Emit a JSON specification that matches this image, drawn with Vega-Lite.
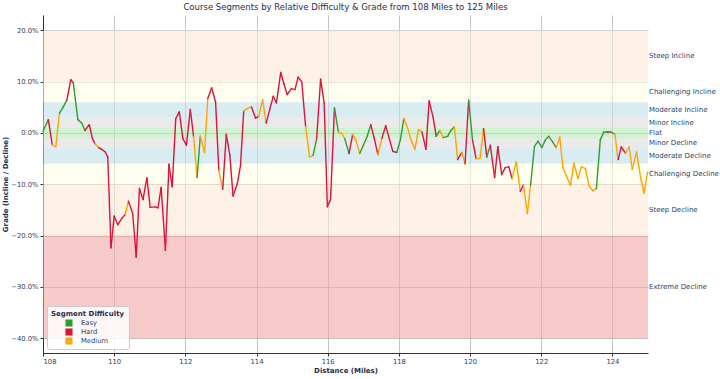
{
  "$schema": "https://vega.github.io/schema/vega-lite/v6.json",
  "width": 605,
  "height": 338,
  "autosize": {"type": "none"},
  "padding": {"left": 43, "top": 15, "right": 72, "bottom": 26},
  "title": {"text": "Course Segments by Relative Difficulty & Grade from 108 Miles to 125 Miles", "fontSize": 8.5, "fontWeight": "normal", "font": "DejaVu Sans", "color": "#1f2d4d", "anchor": "middle", "offset": 4},
  "config": {
    "view": {"stroke": null},
    "font": "DejaVu Sans",
    "axis": {"labelFontSize": 6.8, "labelColor": "#2a3f5f", "titleFontSize": 7, "titleFontWeight": "bold", "titleColor": "#1f2d4d", "domainColor": "#333333", "tickColor": "#333333", "tickSize": 3, "gridColor": "#b5b5b5", "gridWidth": 0.8, "labelPadding": 2}
  },
  "layer": [
    {
      "data": {"values": [
        {"band": "Steep Incline", "lo": 10, "hi": 20},
        {"band": "Challenging Incline", "lo": 6, "hi": 10},
        {"band": "Moderate Incline", "lo": 3, "hi": 6},
        {"band": "Minor Incline", "lo": 1, "hi": 3},
        {"band": "Flat", "lo": -1, "hi": 1},
        {"band": "Minor Decline", "lo": -3, "hi": -1},
        {"band": "Moderate Decline", "lo": -6, "hi": -3},
        {"band": "Challenging Decline", "lo": -10, "hi": -6},
        {"band": "Steep Decline", "lo": -20, "hi": -10},
        {"band": "Extreme Decline", "lo": -40, "hi": -20}
      ]},
      "mark": {"type": "rect", "opacity": 0.6},
      "encoding": {
        "y": {"field": "hi", "type": "quantitative", "title": "Grade (Incline / Decline)", "scale": {"domain": [-42.9, 23], "nice": false, "zero": false},
          "axis": {"values": [-40, -30, -20, -10, 0, 10, 20], "grid": true, "labelExpr": "format(datum.value, '.1f') + '%'", "titlePadding": 2}},
        "y2": {"field": "lo"},
        "fill": {"field": "band", "type": "nominal", "legend": null, "scale": {
          "domain": ["Steep Incline", "Challenging Incline", "Moderate Incline", "Minor Incline", "Flat", "Minor Decline", "Moderate Decline", "Challenging Decline", "Steep Decline", "Extreme Decline"],
          "range": ["#fce9d4", "#fffde4", "#c0dfea", "#dcdcdc", "#b3ebb3", "#dcdcdc", "#c0dfea", "#fffde4", "#fce9d4", "#f2a7a7"]}}
      }
    },
    {
      "data": {"values": [
        {"label": "Steep Incline", "mid": 15},
        {"label": "Challenging Incline", "mid": 8},
        {"label": "Moderate Incline", "mid": 4.5},
        {"label": "Minor Incline", "mid": 2},
        {"label": "Flat", "mid": 0},
        {"label": "Minor Decline", "mid": -2},
        {"label": "Moderate Decline", "mid": -4.5},
        {"label": "Challenging Decline", "mid": -8},
        {"label": "Steep Decline", "mid": -15},
        {"label": "Extreme Decline", "mid": -30}
      ]},
      "mark": {"type": "text", "align": "left", "baseline": "middle", "dx": 1, "fontSize": 7, "color": "#2a3f5f"},
      "encoding": {
        "x": {"datum": 125, "type": "quantitative", "title": "Distance (Miles)",
          "axis": {"values": [108, 110, 112, 114, 116, 118, 120, 122, 124], "grid": true, "titlePadding": 2}},
        "y": {"field": "mid", "type": "quantitative", "title": "Grade (Incline / Decline)",
          "axis": {"values": [-40, -30, -20, -10, 0, 10, 20], "grid": true, "labelExpr": "format(datum.value, '.1f') + '%'", "titlePadding": 2}},
        "text": {"field": "label"}
      }
    },
    {
      "data": {"values": [
        {"mile": 108.00, "grade": 0.3, "difficulty": "Easy"},
        {"mile": 108.15, "grade": 2.6, "difficulty": "Hard"},
        {"mile": 108.26, "grade": -2.3, "difficulty": "Medium"},
        {"mile": 108.36, "grade": -2.7, "difficulty": "Medium"},
        {"mile": 108.46, "grade": 3.8, "difficulty": "Easy"},
        {"mile": 108.57, "grade": 5.1, "difficulty": "Easy"},
        {"mile": 108.67, "grade": 6.4, "difficulty": "Hard"},
        {"mile": 108.78, "grade": 10.4, "difficulty": "Hard"},
        {"mile": 108.85, "grade": 9.8, "difficulty": "Easy"},
        {"mile": 108.98, "grade": 2.6, "difficulty": "Easy"},
        {"mile": 109.09, "grade": 1.9, "difficulty": "Easy"},
        {"mile": 109.18, "grade": 0.5, "difficulty": "Hard"},
        {"mile": 109.30, "grade": 1.6, "difficulty": "Hard"},
        {"mile": 109.39, "grade": -1.1, "difficulty": "Hard"},
        {"mile": 109.46, "grade": -2.1, "difficulty": "Medium"},
        {"mile": 109.56, "grade": -2.85, "difficulty": "Hard"},
        {"mile": 109.65, "grade": -3.2, "difficulty": "Hard"},
        {"mile": 109.75, "grade": -3.7, "difficulty": "Hard"},
        {"mile": 109.82, "grade": -4.7, "difficulty": "Hard"},
        {"mile": 109.91, "grade": -22.4, "difficulty": "Hard"},
        {"mile": 110.00, "grade": -16.2, "difficulty": "Hard"},
        {"mile": 110.10, "grade": -17.9, "difficulty": "Hard"},
        {"mile": 110.22, "grade": -16.6, "difficulty": "Hard"},
        {"mile": 110.31, "grade": -15.9, "difficulty": "Medium"},
        {"mile": 110.40, "grade": -13.3, "difficulty": "Hard"},
        {"mile": 110.52, "grade": -15.7, "difficulty": "Hard"},
        {"mile": 110.62, "grade": -24.2, "difficulty": "Hard"},
        {"mile": 110.71, "grade": -10.8, "difficulty": "Hard"},
        {"mile": 110.81, "grade": -13.0, "difficulty": "Hard"},
        {"mile": 110.92, "grade": -8.7, "difficulty": "Hard"},
        {"mile": 111.01, "grade": -14.5, "difficulty": "Hard"},
        {"mile": 111.14, "grade": -14.4, "difficulty": "Hard"},
        {"mile": 111.23, "grade": -14.6, "difficulty": "Hard"},
        {"mile": 111.32, "grade": -10.6, "difficulty": "Hard"},
        {"mile": 111.44, "grade": -22.9, "difficulty": "Hard"},
        {"mile": 111.54, "grade": -6.1, "difficulty": "Hard"},
        {"mile": 111.63, "grade": -10.5, "difficulty": "Hard"},
        {"mile": 111.73, "grade": 2.8, "difficulty": "Hard"},
        {"mile": 111.83, "grade": 4.1, "difficulty": "Hard"},
        {"mile": 111.93, "grade": -1.1, "difficulty": "Hard"},
        {"mile": 112.03, "grade": -2.4, "difficulty": "Hard"},
        {"mile": 112.14, "grade": 4.6, "difficulty": "Hard"},
        {"mile": 112.23, "grade": -0.65, "difficulty": "Medium"},
        {"mile": 112.33, "grade": -8.7, "difficulty": "Easy"},
        {"mile": 112.42, "grade": -0.65, "difficulty": "Medium"},
        {"mile": 112.54, "grade": -3.8, "difficulty": "Medium"},
        {"mile": 112.63, "grade": 6.7, "difficulty": "Hard"},
        {"mile": 112.74, "grade": 8.8, "difficulty": "Hard"},
        {"mile": 112.85, "grade": 6.0, "difficulty": "Hard"},
        {"mile": 112.94, "grade": -7.3, "difficulty": "Medium"},
        {"mile": 113.05, "grade": -11.0, "difficulty": "Hard"},
        {"mile": 113.15, "grade": -0.3, "difficulty": "Hard"},
        {"mile": 113.25, "grade": -4.3, "difficulty": "Hard"},
        {"mile": 113.34, "grade": -12.3, "difficulty": "Hard"},
        {"mile": 113.46, "grade": -9.9, "difficulty": "Hard"},
        {"mile": 113.55, "grade": -6.3, "difficulty": "Hard"},
        {"mile": 113.64, "grade": 4.3, "difficulty": "Medium"},
        {"mile": 113.74, "grade": 4.75, "difficulty": "Medium"},
        {"mile": 113.86, "grade": 5.07, "difficulty": "Hard"},
        {"mile": 113.97, "grade": 2.9, "difficulty": "Hard"},
        {"mile": 114.06, "grade": 3.25, "difficulty": "Medium"},
        {"mile": 114.17, "grade": 6.5, "difficulty": "Medium"},
        {"mile": 114.27, "grade": 1.95, "difficulty": "Hard"},
        {"mile": 114.37, "grade": 4.56, "difficulty": "Hard"},
        {"mile": 114.47, "grade": 7.15, "difficulty": "Hard"},
        {"mile": 114.56, "grade": 5.85, "difficulty": "Hard"},
        {"mile": 114.68, "grade": 11.8, "difficulty": "Hard"},
        {"mile": 114.77, "grade": 9.6, "difficulty": "Hard"},
        {"mile": 114.86, "grade": 7.5, "difficulty": "Hard"},
        {"mile": 114.98, "grade": 8.65, "difficulty": "Hard"},
        {"mile": 115.08, "grade": 8.45, "difficulty": "Hard"},
        {"mile": 115.17, "grade": 10.9, "difficulty": "Hard"},
        {"mile": 115.27, "grade": 9.95, "difficulty": "Hard"},
        {"mile": 115.38, "grade": 1.2, "difficulty": "Medium"},
        {"mile": 115.49, "grade": -4.7, "difficulty": "Medium"},
        {"mile": 115.59, "grade": -4.35, "difficulty": "Easy"},
        {"mile": 115.69, "grade": -1.1, "difficulty": "Hard"},
        {"mile": 115.80, "grade": 10.5, "difficulty": "Hard"},
        {"mile": 115.90, "grade": 5.85, "difficulty": "Hard"},
        {"mile": 115.99, "grade": -14.4, "difficulty": "Hard"},
        {"mile": 116.08, "grade": -13.0, "difficulty": "Hard"},
        {"mile": 116.19, "grade": 4.9, "difficulty": "Easy"},
        {"mile": 116.30, "grade": 0.2, "difficulty": "Medium"},
        {"mile": 116.39, "grade": -0.1, "difficulty": "Medium"},
        {"mile": 116.48, "grade": -1.1, "difficulty": "Easy"},
        {"mile": 116.60, "grade": -4.0, "difficulty": "Hard"},
        {"mile": 116.70, "grade": -0.3, "difficulty": "Medium"},
        {"mile": 116.79, "grade": -1.3, "difficulty": "Medium"},
        {"mile": 116.90, "grade": -4.0, "difficulty": "Easy"},
        {"mile": 116.99, "grade": -2.6, "difficulty": "Easy"},
        {"mile": 117.11, "grade": -0.65, "difficulty": "Easy"},
        {"mile": 117.21, "grade": 1.6, "difficulty": "Hard"},
        {"mile": 117.30, "grade": -0.8, "difficulty": "Hard"},
        {"mile": 117.41, "grade": -4.2, "difficulty": "Medium"},
        {"mile": 117.52, "grade": -1.1, "difficulty": "Hard"},
        {"mile": 117.63, "grade": 1.4, "difficulty": "Hard"},
        {"mile": 117.73, "grade": -1.1, "difficulty": "Hard"},
        {"mile": 117.83, "grade": -3.6, "difficulty": "Hard"},
        {"mile": 117.94, "grade": -3.8, "difficulty": "Easy"},
        {"mile": 118.04, "grade": -1.4, "difficulty": "Easy"},
        {"mile": 118.14, "grade": 2.8, "difficulty": "Medium"},
        {"mile": 118.25, "grade": 0.85, "difficulty": "Medium"},
        {"mile": 118.34, "grade": -1.3, "difficulty": "Medium"},
        {"mile": 118.45, "grade": -3.2, "difficulty": "Medium"},
        {"mile": 118.55, "grade": 0.65, "difficulty": "Medium"},
        {"mile": 118.65, "grade": 0.2, "difficulty": "Hard"},
        {"mile": 118.76, "grade": -3.2, "difficulty": "Hard"},
        {"mile": 118.85, "grade": 6.25, "difficulty": "Hard"},
        {"mile": 118.96, "grade": 3.1, "difficulty": "Hard"},
        {"mile": 119.05, "grade": -0.65, "difficulty": "Easy"},
        {"mile": 119.15, "grade": 0.5, "difficulty": "Medium"},
        {"mile": 119.25, "grade": -0.9, "difficulty": "Easy"},
        {"mile": 119.37, "grade": -0.65, "difficulty": "Easy"},
        {"mile": 119.46, "grade": 0.5, "difficulty": "Easy"},
        {"mile": 119.56, "grade": 1.2, "difficulty": "Medium"},
        {"mile": 119.65, "grade": -5.2, "difficulty": "Hard"},
        {"mile": 119.77, "grade": -3.8, "difficulty": "Medium"},
        {"mile": 119.86, "grade": -6.0, "difficulty": "Hard"},
        {"mile": 119.96, "grade": 6.4, "difficulty": "Easy"},
        {"mile": 120.07, "grade": -1.4, "difficulty": "Hard"},
        {"mile": 120.17, "grade": -5.0, "difficulty": "Medium"},
        {"mile": 120.28, "grade": -5.0, "difficulty": "Medium"},
        {"mile": 120.38, "grade": 0.85, "difficulty": "Hard"},
        {"mile": 120.47, "grade": -4.7, "difficulty": "Easy"},
        {"mile": 120.57, "grade": -2.4, "difficulty": "Hard"},
        {"mile": 120.69, "grade": -8.7, "difficulty": "Hard"},
        {"mile": 120.78, "grade": -2.7, "difficulty": "Hard"},
        {"mile": 120.89, "grade": -8.1, "difficulty": "Hard"},
        {"mile": 120.99, "grade": -6.75, "difficulty": "Hard"},
        {"mile": 121.09, "grade": -6.6, "difficulty": "Hard"},
        {"mile": 121.18, "grade": -8.9, "difficulty": "Medium"},
        {"mile": 121.30, "grade": -5.65, "difficulty": "Medium"},
        {"mile": 121.41, "grade": -11.4, "difficulty": "Hard"},
        {"mile": 121.50, "grade": -10.1, "difficulty": "Medium"},
        {"mile": 121.61, "grade": -15.7, "difficulty": "Medium"},
        {"mile": 121.70, "grade": -10.2, "difficulty": "Easy"},
        {"mile": 121.81, "grade": -2.6, "difficulty": "Easy"},
        {"mile": 121.91, "grade": -1.6, "difficulty": "Easy"},
        {"mile": 122.02, "grade": -2.85, "difficulty": "Easy"},
        {"mile": 122.12, "grade": -1.3, "difficulty": "Easy"},
        {"mile": 122.21, "grade": -0.65, "difficulty": "Easy"},
        {"mile": 122.32, "grade": -1.75, "difficulty": "Easy"},
        {"mile": 122.42, "grade": -2.85, "difficulty": "Medium"},
        {"mile": 122.52, "grade": -0.8, "difficulty": "Medium"},
        {"mile": 122.61, "grade": -6.75, "difficulty": "Medium"},
        {"mile": 122.71, "grade": -8.45, "difficulty": "Medium"},
        {"mile": 122.82, "grade": -10.2, "difficulty": "Medium"},
        {"mile": 122.92, "grade": -5.85, "difficulty": "Medium"},
        {"mile": 123.03, "grade": -8.9, "difficulty": "Medium"},
        {"mile": 123.13, "grade": -6.6, "difficulty": "Medium"},
        {"mile": 123.24, "grade": -6.95, "difficulty": "Medium"},
        {"mile": 123.34, "grade": -10.2, "difficulty": "Medium"},
        {"mile": 123.45, "grade": -11.3, "difficulty": "Medium"},
        {"mile": 123.55, "grade": -10.85, "difficulty": "Easy"},
        {"mile": 123.66, "grade": -1.3, "difficulty": "Easy"},
        {"mile": 123.76, "grade": 0.2, "difficulty": "Easy"},
        {"mile": 123.86, "grade": 0.2, "difficulty": "Hard"},
        {"mile": 123.95, "grade": 0.2, "difficulty": "Easy"},
        {"mile": 124.07, "grade": -0.25, "difficulty": "Medium"},
        {"mile": 124.16, "grade": -5.2, "difficulty": "Hard"},
        {"mile": 124.25, "grade": -2.7, "difficulty": "Hard"},
        {"mile": 124.37, "grade": -4.0, "difficulty": "Medium"},
        {"mile": 124.47, "grade": -2.7, "difficulty": "Medium"},
        {"mile": 124.56, "grade": -7.1, "difficulty": "Medium"},
        {"mile": 124.68, "grade": -3.7, "difficulty": "Medium"},
        {"mile": 124.79, "grade": -8.6, "difficulty": "Medium"},
        {"mile": 124.89, "grade": -11.7, "difficulty": "Medium"},
        {"mile": 124.99, "grade": -7.6, "difficulty": "Medium"}
      ]},
      "transform": [
        {"window": [{"op": "lead", "field": "mile", "as": "next_mile"}, {"op": "lead", "field": "grade", "as": "next_grade"}], "sort": [{"field": "mile", "order": "ascending"}]},
        {"filter": "datum.next_mile != null"}
      ],
      "mark": {"type": "rule", "strokeWidth": 1.4, "strokeCap": "round"},
      "encoding": {
        "x": {"field": "mile", "type": "quantitative", "title": "Distance (Miles)", "scale": {"domain": [108, 125], "nice": false, "zero": false},
          "axis": {"values": [108, 110, 112, 114, 116, 118, 120, 122, 124], "grid": true, "titlePadding": 2}},
        "x2": {"field": "next_mile"},
        "y": {"field": "grade", "type": "quantitative", "title": "Grade (Incline / Decline)",
          "axis": {"values": [-40, -30, -20, -10, 0, 10, 20], "grid": true, "labelExpr": "format(datum.value, '.1f') + '%'", "titlePadding": 2}},
        "y2": {"field": "next_grade"},
        "color": {"field": "difficulty", "type": "nominal", "title": "Segment Difficulty",
          "scale": {"domain": ["Easy", "Hard", "Medium"], "range": ["#2ca02c", "#dc143c", "#ffa500"]},
          "legend": {"orient": "bottom-left", "offset": 4, "symbolType": "square", "symbolSize": 50, "symbolStrokeWidth": 0, "symbolOffset": 14,
            "titleFontSize": 7, "titleFontWeight": "bold", "titleColor": "#1f2d4d", "labelFontSize": 6.8, "labelColor": "#2a3f5f",
            "fillColor": "rgba(255,255,255,0.85)", "strokeColor": "#cccccc", "padding": 4, "cornerRadius": 2, "rowPadding": 1, "labelOffset": 8, "titlePadding": 2,
            "encode": {"symbols": {"update": {"fill": {"scale": "color", "field": "value"}, "strokeWidth": {"value": 0}}}}}}
      }
    }
  ]
}
